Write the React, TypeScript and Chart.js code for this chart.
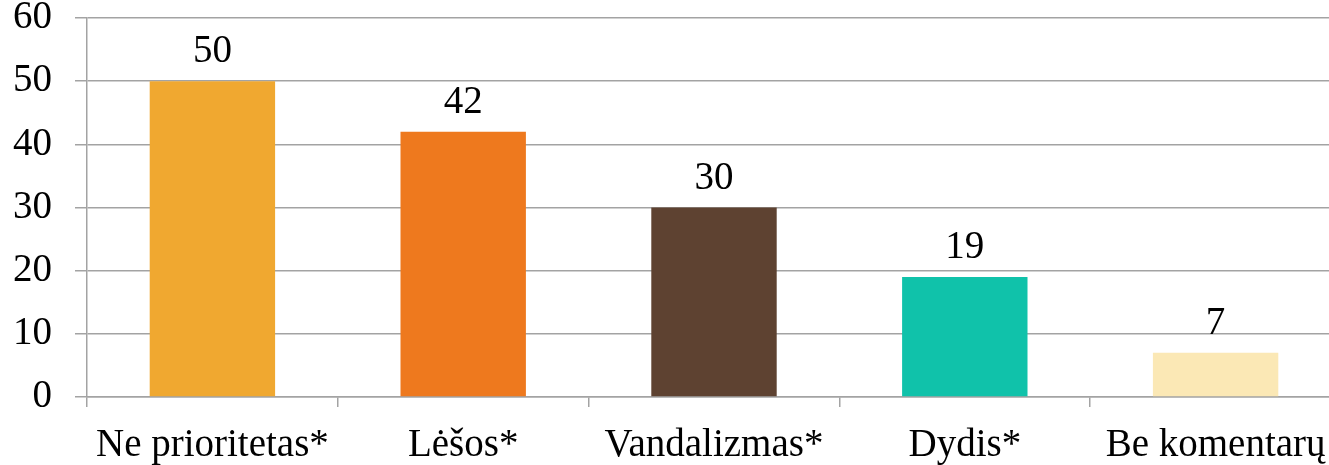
import React, { useEffect, useRef } from "react";
import { Chart, registerables } from "chart.js";

Chart.register(...registerables);

const categories = ["Ne prioritetas*", "Lėšos*", "Vandalizmas*", "Dydis*", "Be komentarų"];
const values = [50, 42, 30, 19, 7];
const barColors = ["#F0A830", "#EE791E", "#5E4231", "#10C2AA", "#FBE8B5"];
const yTicks = [0, 10, 20, 30, 40, 50, 60];

const FONT = "'Liberation Serif', 'Times New Roman', serif";
const FS = 39;
const GRID = "#a3a3a3";

const valueLabels = {
  id: "valueLabels",
  afterDatasetsDraw(chart: any) {
    const ctx = chart.ctx;
    const meta = chart.getDatasetMeta(0);
    ctx.save();
    ctx.font = `${FS}px ${FONT}`;
    ctx.fillStyle = "#000";
    ctx.textAlign = "center";
    ctx.textBaseline = "alphabetic";
    meta.data.forEach((bar: any, i: number) => {
      ctx.fillText(String(values[i]), bar.x, bar.y - 19);
    });
    ctx.restore();
  },
};

export default function App() {
  const ref = useRef<HTMLCanvasElement>(null);
  useEffect(() => {
    if (!ref.current) return;
    const chart = new Chart(ref.current, {
      type: "bar",
      data: {
        labels: categories,
        datasets: [
          {
            data: values,
            backgroundColor: barColors,
            barPercentage: 0.5,
            categoryPercentage: 1,
          },
        ],
      },
      options: {
        responsive: false,
        animation: false,
        devicePixelRatio: 1,
        layout: { padding: { top: 18, right: 0, left: 0, bottom: 0 } },
        plugins: { legend: { display: false }, tooltip: { enabled: false } },
        scales: {
          x: {
            afterFit: (s: any) => {
              s.height = 68;
              s.paddingLeft = 0;
              s.paddingRight = 0;
            },
            grid: {
              offset: true,
              drawOnChartArea: false,
              tickLength: 10,
              color: GRID,
              lineWidth: 1.5,
            },
            border: { color: GRID, width: 1.5 },
            ticks: { color: "#000", font: { family: FONT, size: FS }, padding: 15, maxRotation: 0, autoSkip: false },
          },
          y: {
            min: 0,
            max: 60,
            afterFit: (s: any) => {
              s.width = 87;
              s.paddingTop = 0;
              s.paddingBottom = 0;
            },
            afterBuildTicks: (s: any) => {
              s.ticks = yTicks.map((v) => ({ value: v }));
            },
            grid: { color: GRID, lineWidth: 1.5, tickLength: 12 },
            border: { color: GRID, width: 1.5 },
            ticks: { color: "#000", font: { family: FONT, size: FS }, padding: 23 },
          },
        },
      },
      plugins: [valueLabels],
    });
    return () => chart.destroy();
  }, []);
  return (
    <div style={{ position: "fixed", left: 0, top: 0, width: 1329, height: 465, overflow: "hidden", background: "#fff" }}>
      <canvas ref={ref} width={1341} height={465} style={{ width: 1341, height: 465, display: "block" }} />
    </div>
  );
}
